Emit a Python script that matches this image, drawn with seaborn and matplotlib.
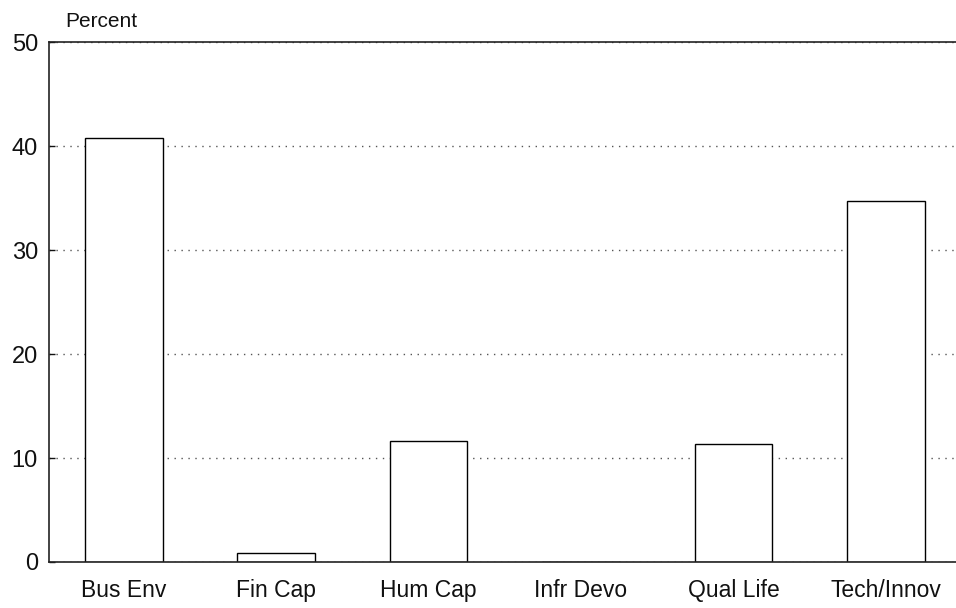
import matplotlib
matplotlib.use("Agg")
import matplotlib.pyplot as plt
import seaborn as sns
import pandas as pd

categories = ["Bus Env", "Fin Cap", "Hum Cap", "Infr Devo", "Qual Life", "Tech/Innov"]
percent = [40.8, 0.9, 11.6, 0.0, 11.3, 34.7]
y_ticks = [0, 10, 20, 30, 40, 50]

sns.set_style("white")
plt.rcParams['font.family'] = ['Liberation Sans', 'DejaVu Sans']
plt.rcParams['text.color'] = '#111111'
plt.rcParams['xtick.color'] = '#111111'
plt.rcParams['ytick.color'] = '#111111'

df = pd.DataFrame({"category": categories, "percent": percent})

fig = plt.figure(figsize=(9.56, 6.08), dpi=100)
ax = fig.add_axes([0.0513, 0.0757, 0.9487, 0.855])

# dotted grid lines behind the bars
ax.set_axisbelow(True)
ax.yaxis.grid(True, linestyle=(0, (1, 4)), color="#555555", linewidth=1.0)

sns.barplot(data=df, x="category", y="percent", order=categories,
            color="white", edgecolor="black", linewidth=1.0, width=0.51,
            saturation=1, ax=ax, zorder=2)

ax.set_xlim(-0.49, 5.46)
ax.set_ylim(0, 50)
ax.set_yticks(y_ticks)
ax.set_xlabel("")
ax.set_ylabel("")
ax.tick_params(axis="y", direction="in", length=4, width=1, pad=8,
               labelsize=17, left=True)
ax.tick_params(axis="x", length=0, pad=12, labelsize=16.5)

for side in ["top", "left", "bottom"]:
    ax.spines[side].set_visible(True)
    ax.spines[side].set_color("#222222")
    ax.spines[side].set_linewidth(1.2)
ax.spines["right"].set_visible(False)

fig.text(0.068, 0.98, "Percent", ha="left", va="top", fontsize=15)

fig.savefig("out.png", dpi=100)
